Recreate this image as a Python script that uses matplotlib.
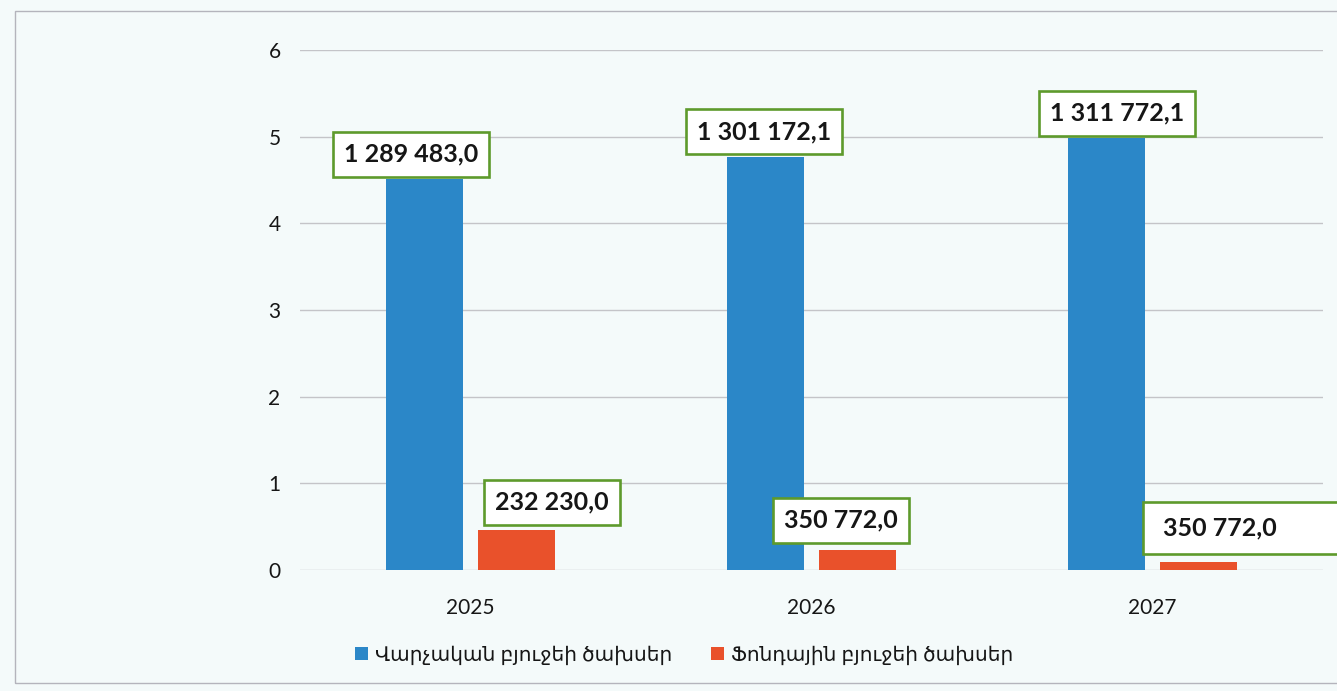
import matplotlib
matplotlib.use('Agg')
import matplotlib.pyplot as plt
import matplotlib.transforms as mtransforms
import numpy as np
from matplotlib.patches import Rectangle

# ---- data ----
years = ['2025', '2026', '2027']
admin_vals = [4.51, 4.77, 4.98]
fund_vals = [0.46, 0.23, 0.09]
admin_labels = ['1 289 483,0', '1 301 172,1', '1 311 772,1']
fund_labels = ['232 230,0', '350 772,0', '350 772,0']
series_names = ['Վարչական բյուջեի ծախսեր', 'Ֆոնդային բյուջեի ծախսեր']
yticks = [0, 1, 2, 3, 4, 5, 6]

# ---- style ----
BG = '#f4fafa'
BLUE = '#2b87c8'
ORANGE = '#e9512b'
GREEN = '#5e9a2c'
GRID = '#c4c4c8'
TXT = '#161616'
FAM = ['Lato', 'DejaVu Sans']

W, H = 1337, 691
fig = plt.figure(figsize=(W / 100, H / 100), dpi=100, facecolor=BG)
ax = fig.add_axes([300 / W, 1 - 570 / H, 1023 / W, 520 / H])
ax.set_facecolor(BG)

x = np.arange(len(years))
bw = 0.226
off = 0.136
b1 = ax.bar(x - off, admin_vals, bw, color=BLUE, zorder=2)
b2 = ax.bar(x + off, fund_vals, bw, color=ORANGE, zorder=2)

ax.set_xlim(-0.5, 2.5)
ax.set_ylim(0, 6)
ax.set_yticks(yticks)
ax.set_yticklabels([str(t) for t in yticks], fontsize=15, family=FAM, color=TXT)
ax.set_xticks(x)
ax.set_xticklabels(years, fontsize=15, family=FAM, color=TXT)
ax.tick_params(axis='both', length=0)
ax.tick_params(axis='y', pad=14)
ax.tick_params(axis='x', pad=20)
ax.yaxis.grid(True, color=GRID, lw=1.0, zorder=0)
ax.set_axisbelow(True)
for s in ax.spines.values():
    s.set_visible(False)

px = 0.72  # points per pixel at dpi 100
box = dict(boxstyle='square,pad=0.44', fc='white', ec=GREEN, lw=1.9)
LBL = dict(fontsize=18, fontweight='bold', family=FAM, color=TXT)

admin_dx = [-13, -1, 11]
admin_dy = [25, 25, 25]
for i in range(len(years)):
    ax.annotate(admin_labels[i], xy=(x[i] - off, admin_vals[i]),
                xytext=(admin_dx[i] * px, admin_dy[i] * px), textcoords='offset points',
                ha='center', va='center', bbox=box, zorder=5,
                annotation_clip=False, **LBL)

fund_dx = [35, -17]
fund_dy = [28, 30]
for i in range(2):
    ax.annotate(fund_labels[i], xy=(x[i] + off, fund_vals[i]),
                xytext=(fund_dx[i] * px, fund_dy[i] * px), textcoords='offset points',
                ha='center', va='center', bbox=box, zorder=5,
                annotation_clip=False, **LBL)

# last label: its box runs past the right edge of the page in the reference
i = 2
ax.annotate(fund_labels[i], xy=(x[i] + off, fund_vals[i]),
            xytext=(-36 * px, 34 * px), textcoords='offset points',
            ha='left', va='center', zorder=6, annotation_clip=False, **LBL)
anchor = ax.transData.transform((x[i] + off, fund_vals[i]))
rect_tr = mtransforms.Affine2D().translate(anchor[0], anchor[1])
ax.add_artist(Rectangle((-56, 8), 220, 52, transform=rect_tr, fc='white',
                        ec=GREEN, lw=1.9, zorder=5, clip_on=False))

leg = fig.legend([b1, b2], series_names, loc='center',
                 bbox_to_anchor=(684 / W, 1 - 655 / H), ncol=2, frameon=False,
                 prop={'family': FAM, 'size': 14.5}, handlelength=0.65, handleheight=0.65,
                 handletextpad=0.35, columnspacing=1.9, labelcolor=TXT)

# scanned page frame
fig.add_artist(Rectangle((15 / W, 1 - 683 / H), 1.1, (683 - 11) / H,
                         transform=fig.transFigure, fill=False, ec='#b4b4bc', lw=1.0))

fig.savefig('out.png', dpi=100, facecolor=BG)
